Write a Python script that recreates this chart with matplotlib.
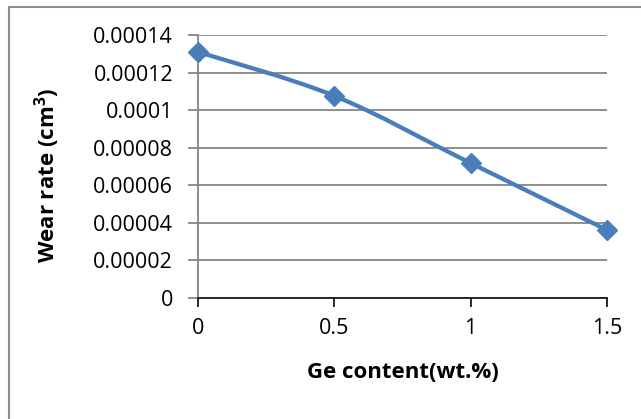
import matplotlib
matplotlib.use("Agg")
import matplotlib.pyplot as plt
from matplotlib.path import Path
from matplotlib.patches import PathPatch, Rectangle
import numpy as np

# data
ge_content = [0, 0.5, 1, 1.5]
wear_rate = [0.000131, 0.0001076, 0.0000718, 0.0000362]
y_ticks = [0, 0.00002, 0.00004, 0.00006, 0.00008, 0.0001, 0.00012, 0.00014]
y_labels = ["0", "0.00002", "0.00004", "0.00006", "0.00008", "0.0001", "0.00012", "0.00014"]
x_labels = ["0", "0.5", "1", "1.5"]

plt.rcParams["font.family"] = ["Open Sans", "DejaVu Sans"]
plt.rcParams["mathtext.fontset"] = "custom"
plt.rcParams["mathtext.rm"] = "Open Sans"
plt.rcParams["mathtext.bf"] = "Open Sans:bold"

LINE_COLOR = "#4A7EBB"
GRID_COLOR = "#868686"

fig = plt.figure(figsize=(6.41, 4.19), dpi=100)
ax = fig.add_axes([198 / 641, 1 - 298 / 419, 409 / 641, 263 / 419])


def smooth_path(xs, ys, t=1 / 6):
    # excel-style smoothed line: cubic bezier segments between the data points
    pts = np.column_stack([xs, ys])
    verts = [pts[0]]
    codes = [Path.MOVETO]
    n = len(pts)
    for i in range(n - 1):
        p0 = pts[max(i - 1, 0)]
        p1 = pts[i]
        p2 = pts[i + 1]
        p3 = pts[min(i + 2, n - 1)]
        c1 = p1 + (p2 - p0) * t
        c2 = p2 - (p3 - p1) * t
        verts += [c1, c2, p2]
        codes += [Path.CURVE4] * 3
    return Path(verts, codes)


ax.add_patch(PathPatch(smooth_path(ge_content, wear_rate), facecolor="none",
                       edgecolor=LINE_COLOR, lw=3.1, capstyle="round", zorder=3))
ax.plot(ge_content, wear_rate, linestyle="none", marker="D", markersize=10.5,
        color=LINE_COLOR, clip_on=False, zorder=4)

ax.set_xlim(0, 1.5)
ax.set_ylim(0, 0.00014)
ax.set_xticks(ge_content)
ax.set_xticklabels(x_labels)
ax.set_yticks(y_ticks)
ax.set_yticklabels(y_labels)

ax.grid(axis="y", color=GRID_COLOR, lw=1.3)
ax.set_axisbelow(True)
for s in ["top", "right"]:
    ax.spines[s].set_visible(False)
ax.spines["left"].set_color(GRID_COLOR)
ax.spines["left"].set_linewidth(1.3)
ax.spines["bottom"].set_color("#1a1a1a")
ax.spines["bottom"].set_linewidth(1.3)

ax.tick_params(axis="y", length=7, width=1.3, color=GRID_COLOR, pad=11, labelsize=15.5)
ax.tick_params(axis="x", length=6.5, width=1.3, color="#1a1a1a", pad=8, labelsize=15.5)

ax.set_xlabel("Ge content(wt.%)", fontsize=16, fontweight="bold", va="center")
ax.xaxis.set_label_coords(0.501, -0.285)
ax.set_ylabel(r"Wear rate (cm$\mathbf{^3}$)", fontsize=16, fontweight="bold", va="center")
ax.yaxis.set_label_coords(-0.369, 0.468)

# chart area border (right/bottom edges fall outside the image)
fig.patches.append(Rectangle((9 / 641, -0.05), 1.1, 1 - 7 / 419 + 0.05,
                             transform=fig.transFigure, fill=False,
                             edgecolor="#8c8c8c", lw=1.5))

fig.savefig("out.png", dpi=100)
